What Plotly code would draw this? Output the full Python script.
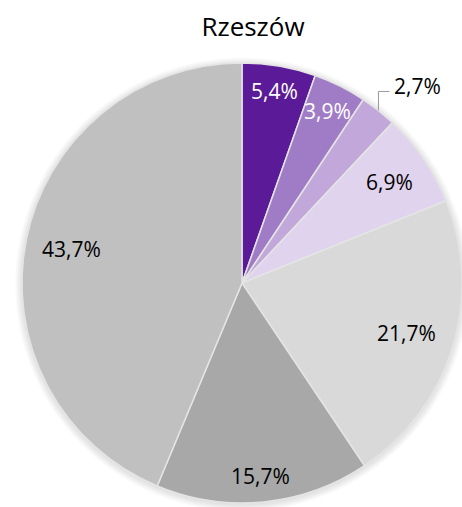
import math
import plotly.graph_objects as go

title_text = "Rzeszów"
labels = ["A", "B", "C", "D", "E", "F", "G"]
values = [5.4, 3.9, 2.7, 6.9, 21.7, 15.7, 43.7]
colors = ["#5b1b98", "#a07cc6", "#c2a7da", "#e0d3ed", "#d9d9d9", "#a8a8a8", "#c0c0c0"]
text_colors = ["white", "white", "black", "black", "black", "black", "black"]
# label placement (style): fraction of radius, or None for outside label with leader
label_radius = [0.887, 0.874, None, 0.81, 0.78, 0.88, 0.79]

W, H = 462, 507
cx, cy, r = 242, 283, 220
FONT = "Open Sans"

fig = go.Figure()

# soft shadow behind pie
shapes = []
for dr in [7, 6, 5, 4, 3, 2, 1]:
    R = r + dr
    shapes.append(dict(type="circle", xref="paper", yref="paper", layer="below",
                       x0=(cx - R) / W, x1=(cx + R) / W,
                       y0=1 - (cy + 1.5 + R) / H, y1=1 - (cy + 1.5 - R) / H,
                       fillcolor="rgba(0,0,0,0.014)", line=dict(width=0)))

fig.add_trace(go.Pie(
    labels=labels,
    values=values,
    sort=False,
    direction="clockwise",
    rotation=0,
    marker=dict(colors=colors, line=dict(color="#e4e4e4", width=1.5)),
    textinfo="none",
    domain=dict(x=[(cx - r) / W, (cx + r) / W], y=[1 - (cy + r) / H, 1 - (cy - r) / H]),
    showlegend=False,
    hoverinfo="skip",
))

total = sum(values)
annotations = []
cum = 0.0
for v, tc, f in zip(values, text_colors, label_radius):
    mid = (cum + v / 2) / total * 2 * math.pi
    cum += v
    txt = f"{v:.1f}%".replace(".", ",")
    s, c = math.sin(mid), math.cos(mid)
    if f is not None:
        x = cx + f * r * s
        y = cy - f * r * c
        annotations.append(dict(x=x / W, y=1 - y / H, xref="paper", yref="paper",
                                text=txt, showarrow=False, xanchor="center", yanchor="middle",
                                font=dict(family=FONT, size=21, color=tc)))
    else:
        ex, ey = cx + r * s, cy - r * c
        elbow_y = ey - 19
        end_x = ex + 11
        shapes.append(dict(type="path", xref="paper", yref="paper",
                           path=f"M {ex / W} {1 - ey / H} L {ex / W} {1 - elbow_y / H} L {end_x / W} {1 - elbow_y / H}",
                           line=dict(color="#9a9a9a", width=1)))
        annotations.append(dict(x=(end_x + 3) / W, y=1 - (elbow_y - 5) / H, xref="paper", yref="paper",
                                text=txt, showarrow=False, xanchor="left", yanchor="middle",
                                font=dict(family=FONT, size=21, color=tc)))

fig.update_layout(
    width=W, height=H,
    margin=dict(l=0, r=0, t=0, b=0),
    paper_bgcolor="white",
    plot_bgcolor="white",
    shapes=shapes,
    annotations=annotations,
    title=dict(text=title_text, x=253 / W, xanchor="center", y=1 - 27 / H, yanchor="middle",
               font=dict(family=FONT, size=26, color="black")),
)

fig.write_html("out.html", config={"displayModeBar": False},
               post_script="document.body.style.margin='0';")
